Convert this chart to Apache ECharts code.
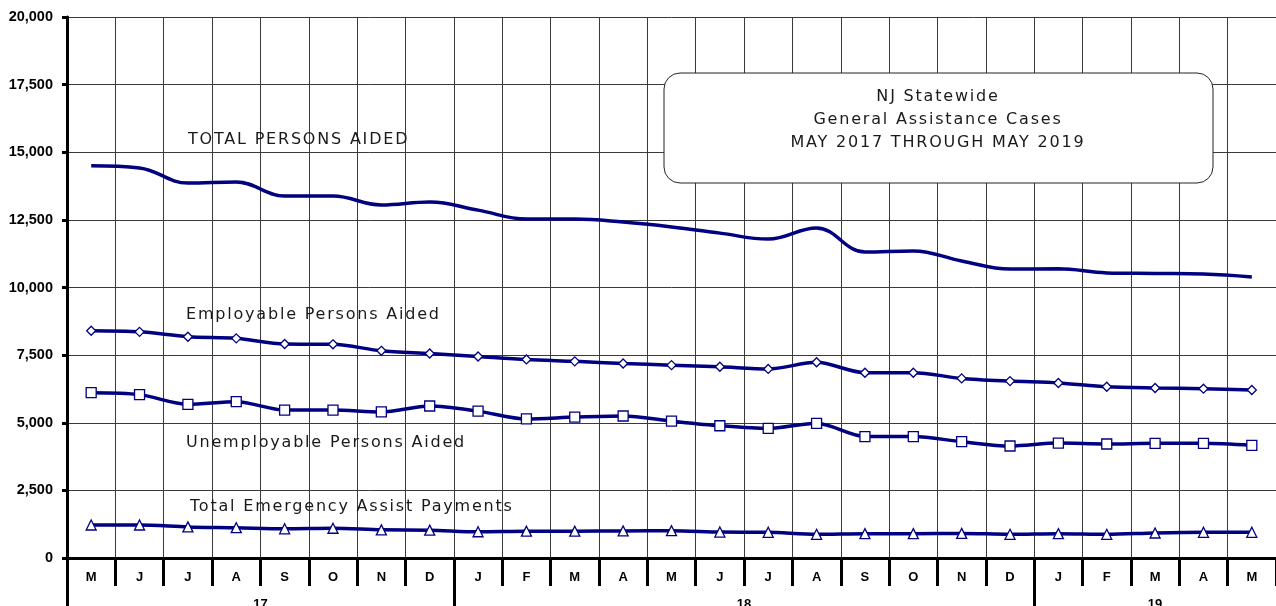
<!DOCTYPE html>
<html>
<head>
<meta charset="utf-8">
<script src="https://cdn.jsdelivr.net/npm/echarts@6/dist/echarts.min.js"></script>
<style>
html,body{margin:0;padding:0;background:#fff;}
#chart{width:1276px;height:606px;}
</style>
</head>
<body>
<div id="chart"></div>
<script>
// ---- data ----
const categories = ['May-17','Jun-17','Jul-17','Aug-17','Sep-17','Oct-17','Nov-17','Dec-17',
  'Jan-18','Feb-18','Mar-18','Apr-18','May-18','Jun-18','Jul-18','Aug-18','Sep-18','Oct-18','Nov-18','Dec-18',
  'Jan-19','Feb-19','Mar-19','Apr-19','May-19'];
const monthLetters = ['M','J','J','A','S','O','N','D','J','F','M','A','M','J','J','A','S','O','N','D','J','F','M','A','M'];
const yearLabels = ['17','18','19'];
const monthsPerYear = [8, 12, 5];

const totalPersonsAided = [14500,14420,13860,13900,13380,13380,13050,13160,12860,12530,12530,12420,12240,12010,11790,12200,11310,11350,10980,10680,10690,10540,10520,10500,10390];
const employablePersonsAided = [8400,8360,8180,8120,7910,7900,7660,7560,7450,7340,7270,7190,7130,7070,6990,7235,6850,6850,6640,6540,6470,6330,6285,6260,6210];
const unemployablePersonsAided = [6110,6040,5680,5780,5470,5470,5400,5620,5430,5140,5210,5250,5060,4890,4790,4980,4490,4490,4300,4140,4250,4215,4240,4240,4165];
const emergencyAssistPayments = [1220,1220,1150,1120,1080,1100,1040,1030,970,990,990,1000,1010,960,950,875,900,900,910,875,900,875,925,950,950];

const yTicks = {min: 0, max: 20000, interval: 2500};

// year group boundaries / centres derived from month counts
const yearBounds = [0];
monthsPerYear.forEach(n => yearBounds.push(yearBounds[yearBounds.length - 1] + n));
const yearCenters = monthsPerYear.map((n, i) => yearBounds[i] + n / 2);

// letter spacing for the annotation texts (Verdana-named font stack)
(function () {
  const p = CanvasRenderingContext2D.prototype;
  const orig = p.fillText;
  p.fillText = function (t, x, y, m) {
    if ('letterSpacing' in this) this.letterSpacing = this.font.indexOf('Verdana') >= 0 ? '1.8px' : '0px';
    return m === undefined ? orig.call(this, t, x, y) : orig.call(this, t, x, y, m);
  };
})();

const NAVY = '#000080';
const annoFont = 'Verdana, "DejaVu Sans", sans-serif';
const axisFont = '"Liberation Sans", Arial, sans-serif';
const chart = echarts.init(document.getElementById('chart'), null, {renderer: 'canvas'});

function marked(name, data, symbol, size) {
  return {
    name, type: 'line', data, smooth: 0.3, symbol, symbolSize: size, showSymbol: true,
    lineStyle: {color: NAVY, width: 3.5},
    itemStyle: {color: '#fff', borderColor: NAVY, borderWidth: 1.3},
    z: 3
  };
}

function txt(x, y, text, align) {
  return {type: 'text', z: 10, x, y,
    style: {text, fill: '#1a1a1a', font: '16px ' + annoFont, textAlign: align || 'left', textVerticalAlign: 'middle'}};
}

chart.setOption({
  animation: false,
  grid: {left: 67, right: 0, top: 17, bottom: 48, containLabel: false, outerBoundsMode: 'none'},
  xAxis: [{
    type: 'category', data: categories, boundaryGap: true,
    axisLine: {lineStyle: {color: '#000', width: 3}},
    axisTick: {show: true, interval: 0, length: 28, lineStyle: {color: '#000', width: 3}},
    axisLabel: {interval: 0, margin: 13, color: '#000', fontWeight: 'bold', fontSize: 13,
      fontFamily: axisFont, formatter: (v, i) => monthLetters[i]},
    splitLine: {show: true, interval: 0, lineStyle: {color: '#3a3a3a', width: 1}}
  }, {
    type: 'value', min: 0, max: yearBounds[yearBounds.length - 1], position: 'bottom', offset: 28,
    axisLine: {show: false},
    axisTick: {show: true, length: 20, customValues: yearBounds.slice(0, -1), lineStyle: {color: '#000', width: 3}},
    axisLabel: {margin: 12, color: '#000', fontWeight: 'bold', fontSize: 13, fontFamily: axisFont,
      customValues: yearCenters,
      formatter: v => { const i = yearCenters.indexOf(v); return i >= 0 ? yearLabels[i] : ''; }},
    splitLine: {show: false}
  }],
  yAxis: {
    type: 'value', min: yTicks.min, max: yTicks.max, interval: yTicks.interval,
    axisLine: {show: true, lineStyle: {color: '#000', width: 3}},
    axisTick: {show: true, length: 5, lineStyle: {color: '#000', width: 3}},
    axisLabel: {margin: 14, color: '#000', fontWeight: 'bold', fontSize: 14.5, fontFamily: axisFont,
      formatter: v => v.toLocaleString('en-US')},
    splitLine: {show: true, lineStyle: {color: '#3a3a3a', width: 1}}
  },
  series: [
    {name: 'TOTAL PERSONS AIDED', type: 'line', data: totalPersonsAided, smooth: 0.4, showSymbol: false, symbol: 'none',
      lineStyle: {color: NAVY, width: 3.5}, z: 3},
    marked('Employable Persons Aided', employablePersonsAided, 'diamond', 9),
    marked('Unemployable Persons Aided', unemployablePersonsAided, 'rect', 10),
    marked('Total Emergency Assist Payments', emergencyAssistPayments, 'triangle', 10)
  ],
  graphic: [
    {type: 'rect', z: 9, shape: {x: 664, y: 73, width: 549, height: 110, r: 16},
      style: {fill: '#fff', stroke: '#222', lineWidth: 1}},
    txt(938, 97, 'NJ Statewide', 'center'),
    txt(938, 120, 'General Assistance Cases', 'center'),
    txt(938, 143, 'MAY 2017 THROUGH MAY 2019', 'center'),
    txt(188, 140, 'TOTAL PERSONS AIDED'),
    txt(186, 315, 'Employable Persons Aided'),
    txt(186, 443, 'Unemployable Persons Aided'),
    txt(190, 507, 'Total Emergency Assist Payments')
  ]
});
</script>
</body>
</html>
